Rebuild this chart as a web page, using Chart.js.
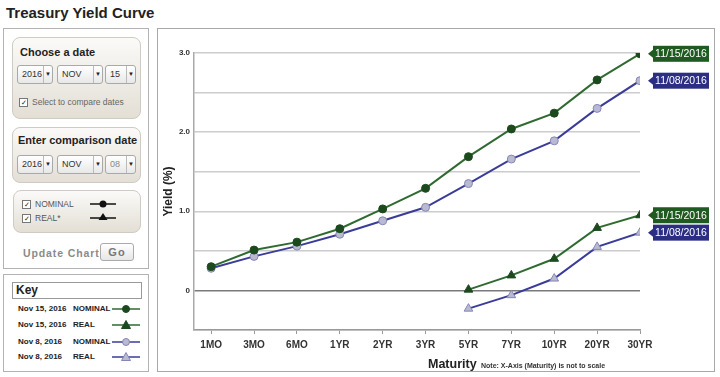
<!DOCTYPE html>
<html>
<head>
<meta charset="utf-8">
<script src="https://cdn.jsdelivr.net/npm/chart.js@4/dist/chart.umd.min.js"></script>
<style>
  html,body{margin:0;padding:0;background:#fff;}
  body{width:720px;height:377px;position:relative;overflow:hidden;font-family:"Liberation Sans",Arial,sans-serif;}
  .abs{position:absolute;}
  .title{left:6px;top:4px;font-size:15px;font-weight:bold;color:#222;}
  .panel{border:1px solid #b3b3b3;box-sizing:border-box;}
  .rbox{border:1px solid #cfcbc2;border-radius:8px;box-sizing:border-box;background:linear-gradient(#fbfaf8,#e3dfd5);}
  .h{font-weight:bold;color:#222;font-size:11px;}
  .sel{height:19px;box-sizing:border-box;border:1px solid #a9a9a9;border-radius:3px;background:linear-gradient(#ffffff,#e8e8e8);font-size:9px;color:#333;line-height:17px;padding-left:4px;}
  .sel:after{content:"";position:absolute;right:8px;top:0;bottom:0;border-left:1px solid #bbb;}
  .sel .ar{position:absolute;right:1px;top:0;font-size:6px;color:#222;}
  .cb{width:7px;height:7px;border:1px solid #777;background:#fff;font-size:7px;line-height:7px;text-align:center;color:#222;}
  .small{font-size:8.5px;color:#666;}
  .key{font-size:8px;font-weight:bold;color:#222;}
</style>
</head>
<body>
<div class="abs title">Treasury Yield Curve</div>

<div class="abs panel" style="left:3px;top:28px;width:146px;height:241px;"></div>
<div class="abs rbox" style="left:12px;top:37px;width:129px;height:82px;"></div>
<div class="abs h" style="left:20px;top:46px;">Choose a date</div>
<div class="abs sel" style="left:17px;top:65px;width:36px;">2016<span class="ar">▼</span></div>
<div class="abs sel" style="left:57px;top:65px;width:46px;">NOV<span class="ar">▼</span></div>
<div class="abs sel" style="left:105px;top:65px;width:31px;">15<span class="ar">▼</span></div>
<div class="abs cb" style="left:19px;top:98px;">✓</div>
<div class="abs small" style="left:32px;top:97px;">Select to compare dates</div>

<div class="abs rbox" style="left:12px;top:127px;width:129px;height:56px;"></div>
<div class="abs h" style="left:18px;top:134px;">Enter comparison date</div>
<div class="abs sel" style="left:17px;top:155px;width:36px;">2016<span class="ar">▼</span></div>
<div class="abs sel" style="left:57px;top:155px;width:46px;">NOV<span class="ar">▼</span></div>
<div class="abs sel" style="left:105px;top:155px;width:31px;color:#888;">08<span class="ar">▼</span></div>

<div class="abs rbox" style="left:13px;top:190px;width:128px;height:43px;"></div>
<div class="abs cb" style="left:22px;top:200px;">✓</div>
<div class="abs small" style="left:35px;top:199px;color:#555;">NOMINAL</div>
<svg class="abs" style="left:90px;top:199px;" width="26" height="10"><line x1="0" y1="5" x2="26" y2="5" stroke="#111" stroke-width="1.5"/><circle cx="13" cy="5" r="3.5" fill="#111"/></svg>
<div class="abs cb" style="left:22px;top:214px;">✓</div>
<div class="abs small" style="left:35px;top:213px;color:#555;">REAL*</div>
<svg class="abs" style="left:90px;top:212px;" width="26" height="10"><line x1="0" y1="6" x2="26" y2="6" stroke="#111" stroke-width="1.5"/><polygon points="13,1 17.5,8 8.5,8" fill="#111"/></svg>

<div class="abs" style="left:23px;top:247px;font-size:10.5px;font-weight:bold;color:#8a8a8a;letter-spacing:0.9px;">Update Chart</div>
<div class="abs" style="left:100px;top:243px;width:34px;height:18px;box-sizing:border-box;border:1px solid #aaa;border-radius:3px;background:linear-gradient(#fff,#e6e6e6);font-size:11px;font-weight:bold;color:#777;text-align:center;line-height:16px;letter-spacing:1px;">Go</div>

<div class="abs panel" style="left:3px;top:274px;width:146px;height:98px;"></div>
<div class="abs" style="left:12px;top:282px;width:130px;height:17px;border:1px solid #999;box-sizing:border-box;"></div>
<div class="abs" style="left:16px;top:283px;font-size:12px;font-weight:bold;color:#222;">Key</div>
<div id="keyrows"></div>

<div class="abs" style="left:157px;top:28px;width:558px;height:344px;border:1px solid #a8a8a8;box-sizing:border-box;"></div>
<canvas id="c" class="abs" style="left:158px;top:29px;" width="556" height="342"></canvas>
<div class="abs" style="left:428px;top:357px;font-size:12.5px;font-weight:bold;color:#222;">Maturity</div>
<div class="abs" style="left:481px;top:362px;font-size:7px;font-weight:bold;color:#333;">Note: X-Axis (Maturity) is not to scale</div>

<script>
// ---- data ----
const maturities = ['1MO','3MO','6MO','1YR','2YR','3YR','5YR','7YR','10YR','20YR','30YR'];
const nominalNov15 = [0.30,0.51,0.61,0.78,1.03,1.29,1.69,2.04,2.24,2.66,2.99];
const nominalNov08 = [0.28,0.43,0.56,0.71,0.88,1.05,1.35,1.66,1.89,2.30,2.65];
const realNov15 = [null,null,null,null,null,null,0.01,0.19,0.40,0.79,0.95];
const realNov08 = [null,null,null,null,null,null,-0.23,-0.06,0.15,0.55,0.73];
const dateLabels = ['11/15/2016','11/08/2016'];
const keyDates = ['Nov 15, 2016','Nov 15, 2016','Nov 8, 2016','Nov 8, 2016'];
const keyTypes = ['NOMINAL','REAL','NOMINAL','REAL'];
const yTickValues = [-0.5,0,0.5,1,1.5,2,2.5,3];

const GREEN = '#2f6a31', GREEN_D = '#1c4a1e', BLUE = '#3a3c98', BLUE_L = '#b9b9d2', BLUE_B = '#8586b6';
const BOX_G = '#1f5a21', BOX_B = '#2c2e84';

function pts(arr){ return arr.map((v,i)=>({x:i,y:v})); }

// key rows
const keyColors = [[GREEN,GREEN_D,GREEN_D,'c'],[GREEN,GREEN_D,GREEN_D,'t'],[BLUE,BLUE_L,BLUE_B,'c'],[BLUE,BLUE_L,BLUE_B,'t']];
const kr = document.getElementById('keyrows');
const rowY = [309,325,342,357];
keyDates.forEach((d,i)=>{
  const [lc,fc,bc,sh] = keyColors[i];
  const sym = sh==='c' ? `<circle cx="14" cy="5" r="3.5" fill="${fc}" stroke="${bc}" stroke-width="1"/>`
                       : `<polygon points="14,0.5 18.5,8.5 9.5,8.5" fill="${fc}" stroke="${bc}" stroke-width="1"/>`;
  kr.insertAdjacentHTML('beforeend',
    `<div class="abs key" style="left:18px;top:${rowY[i]-5}px;">${d}</div>`+
    `<div class="abs key" style="left:73px;top:${rowY[i]-5}px;">${keyTypes[i]}</div>`+
    `<svg class="abs" style="left:112px;top:${rowY[i]-5}px;" width="28" height="10"><line x1="0" y1="5" x2="28" y2="5" stroke="${lc}" stroke-width="1.5"/>${sym}</svg>`);
});

const endLabels = {
  id:'endLabels',
  afterDatasetsDraw(chart){
    const ctx = chart.ctx;
    chart.data.datasets.forEach((ds,di)=>{
      const meta = chart.getDatasetMeta(di);
      const p = meta.data[meta.data.length-1];
      if(!p) return;
      const x0 = p.x + 13, w = 56, h = 16, y0 = p.y - h/2;
      ctx.save();
      ctx.fillStyle = ds.boxColor;
      ctx.fillRect(x0, y0, w, h);
      ctx.beginPath();
      ctx.moveTo(x0, p.y-4); ctx.lineTo(x0-5, p.y); ctx.lineTo(x0, p.y+4); ctx.closePath(); ctx.fill();
      ctx.fillStyle = '#ffffff';
      ctx.font = '10.5px "Liberation Sans", Arial, sans-serif';
      ctx.textAlign = 'center'; ctx.textBaseline = 'middle';
      ctx.fillText(ds.endLabel, x0 + w/2, p.y + 0.5);
      ctx.restore();
    });
  }
};

new Chart(document.getElementById('c'), {
  type:'line',
  data:{
    datasets:[
      {label:'Nov 15, 2016 NOMINAL', data:pts(nominalNov15), borderColor:GREEN, borderWidth:2, pointStyle:'circle', pointRadius:4, pointBackgroundColor:GREEN_D, pointBorderColor:GREEN_D, pointBorderWidth:1, endLabel:dateLabels[0], boxColor:BOX_G},
      {label:'Nov 8, 2016 NOMINAL', data:pts(nominalNov08), borderColor:BLUE, borderWidth:2, pointStyle:'circle', pointRadius:4, pointBackgroundColor:BLUE_L, pointBorderColor:BLUE_B, pointBorderWidth:1, endLabel:dateLabels[1], boxColor:BOX_B},
      {label:'Nov 15, 2016 REAL', data:pts(realNov15), borderColor:GREEN, borderWidth:2, pointStyle:'triangle', pointRadius:5, pointBackgroundColor:GREEN_D, pointBorderColor:GREEN_D, pointBorderWidth:1, endLabel:dateLabels[0], boxColor:BOX_G},
      {label:'Nov 8, 2016 REAL', data:pts(realNov08), borderColor:BLUE, borderWidth:2, pointStyle:'triangle', pointRadius:5, pointBackgroundColor:BLUE_L, pointBorderColor:BLUE_B, pointBorderWidth:1, endLabel:dateLabels[1], boxColor:BOX_B}
    ]
  },
  options:{
    responsive:false, animation:false,
    layout:{padding:{top:24,right:74,left:0,bottom:0}},
    plugins:{legend:{display:false}, tooltip:{enabled:false}},
    elements:{line:{tension:0}},
    scales:{
      x:{
        type:'linear', min:-0.4, max:10,
        afterBuildTicks(s){ s.ticks = maturities.map((m,i)=>({value:i})); },
        afterFit(s){ s.height = 41; },
        ticks:{ callback:(v)=>maturities[v] ?? '', font:{family:'"Liberation Sans", Arial, sans-serif', size:10, weight:'bold'}, color:'#333', padding:5, maxRotation:0, autoSkip:false },
        grid:{ drawOnChartArea:false, drawTicks:true, tickLength:4, color:'#999' },
        border:{ color:'#999', width:1.5 }
      },
      y:{
        min:-0.5, max:3,
        afterBuildTicks(s){ s.ticks = yTickValues.map(v=>({value:v})); },
        afterFit(s){ s.width = 36; },
        ticks:{ callback:(v)=> v%1===0 ? (v===0?'0':v.toFixed(1)) : '', font:{family:'"Liberation Sans", Arial, sans-serif', size:8, weight:'bold'}, color:'#333', padding:4 },
        grid:{ drawTicks:false, lineWidth:1.5, color:(c)=> c.tick && c.tick.value===0 ? '#7a7a7a' : '#cccccc' },
        border:{ color:'#aaa', width:1.5 },
        title:{ display:true, text:'Yield (%)', font:{family:'"Liberation Sans", Arial, sans-serif', size:12, weight:'bold'}, color:'#222', padding:{top:3,bottom:0} }
      }
    }
  },
  plugins:[endLabels]
});
</script>
</body>
</html>
